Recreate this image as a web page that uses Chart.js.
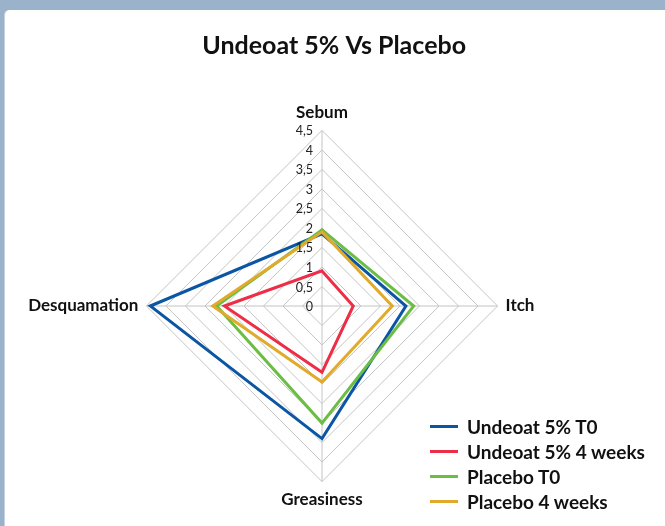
<!DOCTYPE html>
<html>
<head>
<meta charset="utf-8">
<script src="https://cdn.jsdelivr.net/npm/chart.js@4"></script>
<style>
  html, body { margin: 0; padding: 0; }
  body { width: 665px; height: 526px; overflow: hidden; background: #9ab3cb; position: relative; font-family: Lato, sans-serif; }
  #panel { position: absolute; left: 5px; top: 10px; width: 700px; height: 560px; background: #fff; border-radius: 5px; box-shadow: -1px 0 0 #c3d3e3; }
  #radar { position: absolute; left: -40px; top: 0; }
  #legend { position: absolute; left: 430px; top: 414px; }
  .row { height: 25px; display: flex; align-items: center; font-weight: bold; font-size: 19px; color: #111; }
  .swatch { width: 28px; height: 3px; margin-right: 9px; }
</style>
</head>
<body>
<div id="panel"></div>
<canvas id="radar" width="724" height="526"></canvas>
<div id="legend"></div>
<script>
// axes, clockwise from the top
const categories = ['Sebum', 'Itch', 'Greasiness', 'Desquamation'];

// series values
const undeoatT0 = [1.85, 2.15, 3.4, 4.4];
const undeoat4w = [0.9, 0.8, 1.7, 2.5];
const placeboT0 = [1.95, 2.35, 3.0, 2.7];
const placebo4w = [1.9, 1.8, 1.95, 2.8];

const seriesNames = ['Undeoat 5% T0', 'Undeoat 5% 4 weeks', 'Placebo T0', 'Placebo 4 weeks'];
const seriesColors = ['#0b56a4', '#ee2d46', '#6cbd45', '#e2aa2b'];

// radial tick labels (decimal comma)
const tickLabels = ['0', '0,5', '1', '1,5', '2', '2,5', '3', '3,5', '4', '4,5'];

const allSeries = [undeoatT0, undeoat4w, placeboT0, placebo4w];

// draws the tick labels just left of the vertical axis
const tickLabelPlugin = {
    id: 'tickLabelPlugin',
    afterDatasetsDraw(chart) {
        const scale = chart.scales.r;
        const ctx = chart.ctx;
        ctx.save();
        ctx.font = '12.5px Lato, sans-serif';
        ctx.fillStyle = '#222';
        ctx.textAlign = 'right';
        ctx.textBaseline = 'middle';
        scale.ticks.forEach((tick, i) => {
            const d = scale.getDistanceFromCenterForValue(tick.value);
            ctx.fillText(tickLabels[i], scale.xCenter - 9, scale.yCenter - d + 1);
        });
        ctx.restore();
    }
};

const ctx = document.getElementById('radar').getContext('2d');
const radarChart = new Chart(ctx, {
    type: 'radar',
    data: {
        labels: categories,
        datasets: allSeries.map((values, i) => ({
            label: seriesNames[i],
            data: values,
            borderColor: seriesColors[i],
            backgroundColor: seriesColors[i],
            borderWidth: 3,
            fill: false,
            pointRadius: 0,
            tension: 0,
            order: allSeries.length - i
        }))
    },
    options: {
        responsive: false,
        animation: false,
        devicePixelRatio: 1,
        layout: {
            padding: { top: 0, bottom: 15, left: 0, right: 0 }
        },
        plugins: {
            legend: { display: false },
            tooltip: { enabled: false },
            title: {
                display: true,
                // leading spaces nudge the title right of the radar centre, as in the original
                text: '    Undeoat 5% Vs Placebo',
                color: '#111',
                font: { family: 'Lato, sans-serif', size: 25, weight: 'bold' },
                padding: { top: 31, bottom: 41 }
            }
        },
        scales: {
            r: {
                min: 0,
                max: 4.5,
                ticks: { stepSize: 0.5, display: false },
                grid: { color: '#c4c4c4', lineWidth: 1 },
                angleLines: { color: '#c4c4c4', lineWidth: 1 },
                pointLabels: {
                    color: '#111',
                    padding: 8,
                    font: { family: 'Lato, sans-serif', size: 17, weight: 'bold' }
                }
            }
        }
    },
    plugins: [tickLabelPlugin]
});

// legend built from the chart's datasets
const legend = document.getElementById('legend');
radarChart.data.datasets.forEach(ds => {
    const row = document.createElement('div');
    row.className = 'row';
    row.innerHTML = `<span class="swatch" style="background:${ds.borderColor}"></span>${ds.label}`;
    legend.appendChild(row);
});
</script>
</body>
</html>
